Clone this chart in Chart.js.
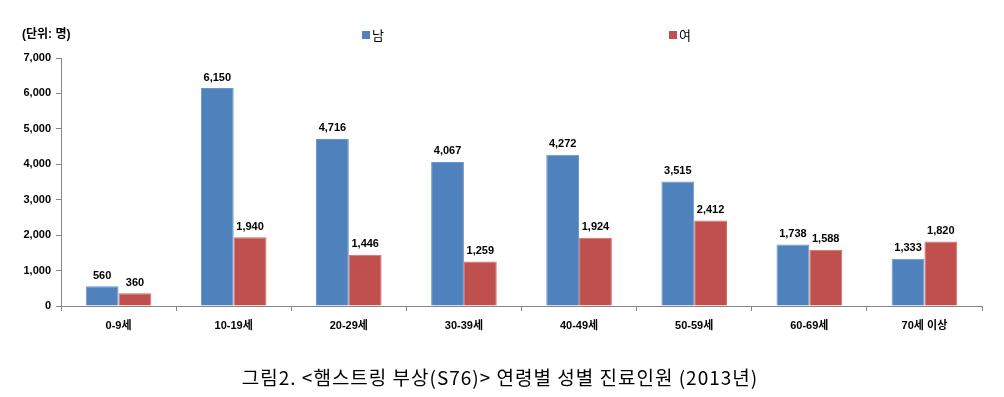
<!DOCTYPE html>
<html>
<head>
<meta charset="utf-8">
<script src="https://cdn.jsdelivr.net/npm/chart.js@4"></script>
<style>
  html, body { margin: 0; padding: 0; background: #fff; }
  #wrap { width: 1004px; height: 397px; }
</style>
</head>
<body>
<div id="wrap"><canvas id="ageChart"></canvas></div>
<script>
const ageGroups = ['0-9세', '10-19세', '20-29세', '30-39세', '40-49세', '50-59세', '60-69세', '70세 이상'];
const maleCounts = [560, 6150, 4716, 4067, 4272, 3515, 1738, 1333];
const femaleCounts = [360, 1940, 1446, 1259, 1924, 2412, 1588, 1820];
const seriesNames = ['남', '여'];
const seriesColors = ['#4F81BD', '#C0504D'];
const edgeColors = ['#6A95C9', '#D46E6B'];

const boldFont = '"Liberation Sans", "Noto Sans CJK KR", sans-serif';
const titleText = '그림2. <햄스트링 부상(S76)> 연령별 성별 진료인원 (2013년)';

// labels, legend and caption drawn by hand
const extras = {
    id: 'extras',
    afterDatasetsDraw(chart) {
        const ctx = chart.ctx;
        ctx.save();
        ctx.fillStyle = '#000';
        ctx.textBaseline = 'bottom';
        ctx.textAlign = 'center';
        ctx.font = 'bold 11px ' + boldFont;
        chart.data.datasets.forEach((ds, i) => {
            chart.getDatasetMeta(i).data.forEach((bar, j) => {
                ctx.fillText(ds.data[j].toLocaleString('en-US'), bar.x, bar.y - 5);
            });
        });

        ctx.textAlign = 'left';
        ctx.textBaseline = 'middle';
        ctx.font = 'bold 12px ' + boldFont;
        ctx.fillText('(단위: 명)', 22, 35);

        const legendX = [362, 669];
        ctx.font = '13px "Noto Sans CJK KR", sans-serif';
        seriesNames.forEach((name, i) => {
            ctx.fillStyle = seriesColors[i];
            ctx.fillRect(legendX[i], 31, 8, 8);
            ctx.fillStyle = '#000';
            ctx.fillText(name, legendX[i] + 10, 35);
        });

        ctx.textAlign = 'center';
        ctx.font = '19px "Noto Sans CJK KR", sans-serif';
        ctx.letterSpacing = '1px';
        ctx.fillText(titleText, 500, 378);
        ctx.restore();
    }
};

const data = {
    labels: ageGroups,
    datasets: seriesNames.map((name, i) => ({
        label: name,
        data: i === 0 ? maleCounts : femaleCounts,
        backgroundColor: seriesColors[i],
        borderColor: edgeColors[i],
        borderWidth: 1,
        categoryPercentage: 0.57,
        barPercentage: 1
    }))
};

const config = {
    type: 'bar',
    data: data,
    options: {
        responsive: true,
        maintainAspectRatio: false,
        animation: false,
        layout: {
            padding: { left: 0, right: 22, top: 58, bottom: 61 }
        },
        plugins: {
            legend: { display: false },
            tooltip: { enabled: false }
        },
        scales: {
            x: {
                afterFit(scale) { scale.height = 30; },
                border: { color: '#868686', width: 1 },
                grid: { drawOnChartArea: false, drawTicks: true, tickLength: 5, color: '#868686', offset: true },
                ticks: {
                    color: '#000',
                    padding: 8,
                    font: { family: boldFont, size: 11, weight: 'bold' }
                }
            },
            y: {
                min: 0,
                max: 7000,
                afterFit(scale) { scale.width = 61; },
                border: { color: '#868686', width: 1 },
                grid: { drawOnChartArea: false, drawTicks: true, tickLength: 5, color: '#868686' },
                ticks: {
                    stepSize: 1000,
                    color: '#000',
                    padding: 5,
                    font: { family: boldFont, size: 11, weight: 'bold' },
                    callback: (v) => v.toLocaleString('en-US')
                }
            }
        }
    },
    plugins: [extras]
};

const ageChart = new Chart(document.querySelector('#ageChart'), config);
</script>
</body>
</html>
